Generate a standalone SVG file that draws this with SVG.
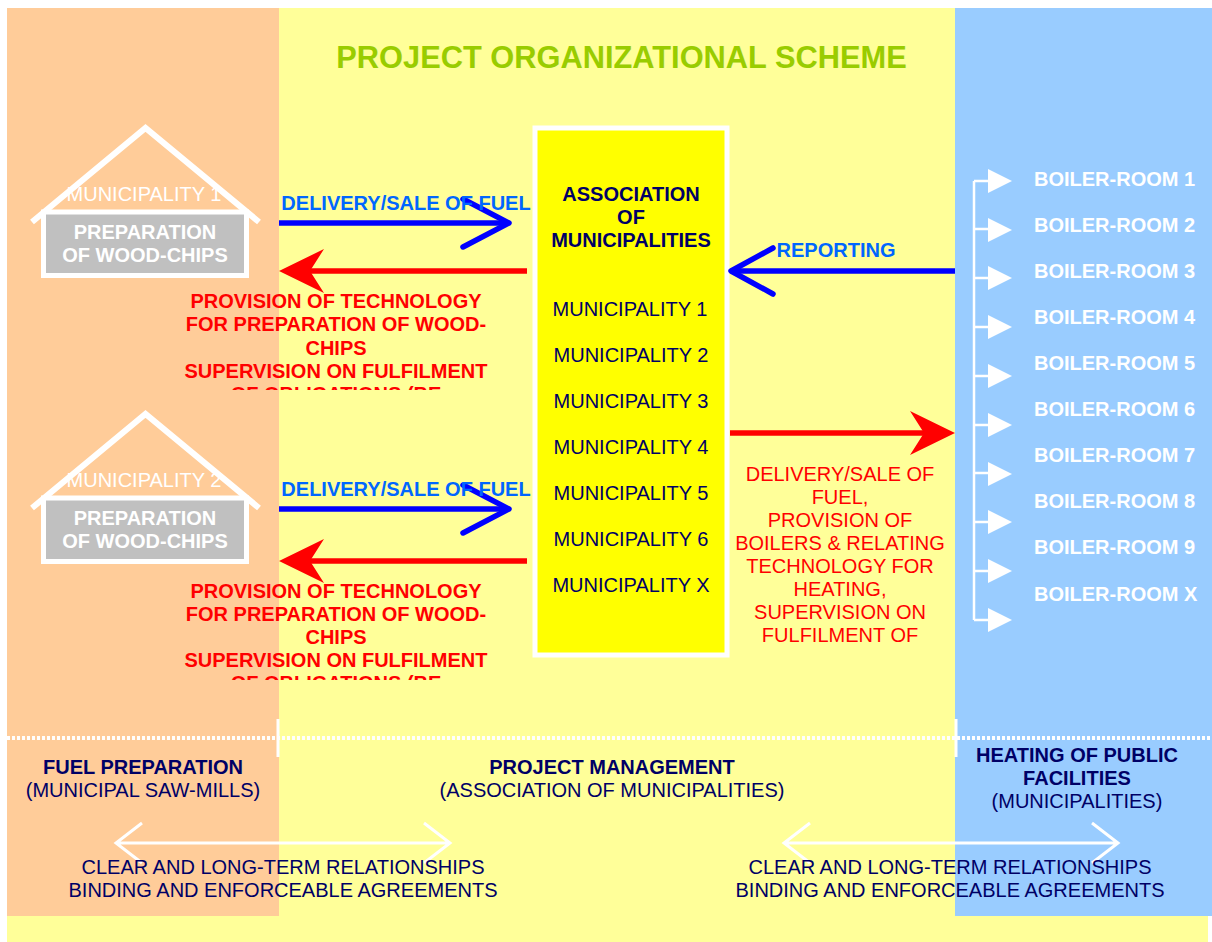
<svg xmlns="http://www.w3.org/2000/svg" width="1212" height="942" viewBox="0 0 1212 942">
<defs>
<style>
text{font-family:"Liberation Sans",Arial,sans-serif;font-size:20px;text-anchor:middle}
.b{font-weight:bold}
.navy{fill:#000066}
.w{fill:#fff}
.red{fill:#ff0000}
.lb{fill:#0066ff;font-weight:bold}
.blue{stroke:#0000ff;stroke-width:5.5;fill:none}
.head{stroke-linecap:round;stroke-linejoin:round}
.redl{stroke:#ff0000;stroke-width:5.5;fill:none}
.wl{stroke:#fff;fill:none}
.s{text-anchor:start}
</style>
<clipPath id="c1"><rect x="150" y="280" width="370" height="110"/></clipPath>
<clipPath id="c2"><rect x="150" y="570" width="370" height="110"/></clipPath>
<polygon id="rh" points="0,0 -45,-22 -31,0 -45,22" fill="#ff0000"/>
<g id="house">
<path class="wl" stroke-width="6" d="M32 222L145.500 128L259 222"/>
<rect x="43.500" y="212" width="203" height="63.500" fill="#c0c0c0" stroke="#fff" stroke-width="5"/>
</g>
</defs>
<rect x="7" y="8" width="1201" height="934" fill="#ffff99"/>
<rect x="7" y="8" width="272" height="908" fill="#ffcc99"/>
<rect x="955" y="8" width="257" height="908" fill="#99ccff"/>
<text id="title" x="621.500" y="68" class="b" style="font-size:30.800px" fill="#99cc00">PROJECT ORGANIZATIONAL SCHEME</text>

<g id="municipality-1">
<use href="#house"/>
<text x="144" y="201" class="w">MUNICIPALITY 1</text>
<text x="145" y="239" class="w b">PREPARATION</text>
<text x="145" y="262" class="w b">OF WOOD-CHIPS</text>
</g>
<g id="municipality-2">
<use href="#house" y="286"/>
<text x="144" y="487" class="w">MUNICIPALITY 2</text>
<text x="145" y="525" class="w b">PREPARATION</text>
<text x="145" y="548" class="w b">OF WOOD-CHIPS</text>
</g>

<g id="association">
<rect x="535" y="128" width="192" height="527" fill="#ffff00" stroke="#fff" stroke-width="5"/>
<text x="631" y="201" class="navy b">ASSOCIATION</text>
<text x="631" y="224" class="navy b">OF</text>
<text x="631" y="247" class="navy b">MUNICIPALITIES</text>
<text x="630" y="316" class="navy">MUNICIPALITY 1</text>
<text x="631" y="362" class="navy">MUNICIPALITY 2</text>
<text x="631" y="408" class="navy">MUNICIPALITY 3</text>
<text x="631" y="454" class="navy">MUNICIPALITY 4</text>
<text x="631" y="500" class="navy">MUNICIPALITY 5</text>
<text x="631" y="546" class="navy">MUNICIPALITY 6</text>
<text x="631" y="592" class="navy">MUNICIPALITY X</text>
</g>

<g id="boiler-rooms">
<text x="1034" y="186" class="w b s">BOILER-ROOM 1</text>
<text x="1034" y="232" class="w b s">BOILER-ROOM 2</text>
<text x="1034" y="278" class="w b s">BOILER-ROOM 3</text>
<text x="1034" y="324" class="w b s">BOILER-ROOM 4</text>
<text x="1034" y="370" class="w b s">BOILER-ROOM 5</text>
<text x="1034" y="416" class="w b s">BOILER-ROOM 6</text>
<text x="1034" y="462" class="w b s">BOILER-ROOM 7</text>
<text x="1034" y="508" class="w b s">BOILER-ROOM 8</text>
<text x="1034" y="554" class="w b s">BOILER-ROOM 9</text>
<text x="1034" y="601" class="w b s">BOILER-ROOM X</text>
</g>

<g id="connectors">
<path class="blue" d="M279 223H508"/>
<path class="blue head" d="M463 199L509 223L463 247"/>
<path class="redl" d="M527 271H300"/>
<use href="#rh" transform="translate(279 271) rotate(180)"/>
<path class="blue" d="M279 509H508"/>
<path class="blue head" d="M463 485L509 509L463 533"/>
<path class="redl" d="M527 561H300"/>
<use href="#rh" transform="translate(279 561) rotate(180)"/>
<path class="blue" d="M955 271H732"/>
<path class="blue head" d="M773 248L731 271L773 294"/>
<path class="redl" d="M730 433H925"/>
<use href="#rh" transform="translate(955 433)"/>
<path class="wl" stroke-width="2.500" d="M974 181V620"/>
<path class="wl" stroke-width="2.500" d="M974 181H990M974 229H990M974 278H990M974 327H990M974 376H990M974 425H990M974 473H990M974 522H990M974 571H990M974 620H990"/>
<g fill="#fff">
<path d="M988 169L1012 181L988 193Z"/>
<path d="M988 218L1012 230L988 242Z"/>
<path d="M988 266L1012 278L988 290Z"/>
<path d="M988 315L1012 327L988 339Z"/>
<path d="M988 364L1012 376L988 388Z"/>
<path d="M988 413L1012 425L988 437Z"/>
<path d="M988 462L1012 474L988 486Z"/>
<path d="M988 510L1012 522L988 534Z"/>
<path d="M988 559L1012 571L988 583Z"/>
<path d="M988 608L1012 620L988 632Z"/>
</g>
<path class="wl" stroke-width="3" d="M116 843H450M142 823L116 843L142 863M424 823L450 843L424 863"/>
<path class="wl" stroke-width="3" d="M784 843H1118M810 823L784 843L810 863M1092 823L1118 843L1092 863"/>
<path class="wl" stroke-width="4" stroke-dasharray="3 2" d="M7 738H1212"/>
<path class="wl" stroke-width="3" d="M278 719V757M956 719V757"/>
</g>

<g id="labels">
<text x="406" y="210" class="lb">DELIVERY/SALE OF FUEL</text>
<text x="406" y="496" class="lb">DELIVERY/SALE OF FUEL</text>
<text x="836" y="257" class="lb">REPORTING</text>
<g clip-path="url(#c1)" class="b">
<text x="336" y="308" class="red">PROVISION OF TECHNOLOGY</text>
<text x="336" y="331" class="red">FOR PREPARATION OF WOOD-</text>
<text x="336" y="355" class="red">CHIPS</text>
<text x="336" y="378" class="red">SUPERVISION ON FULFILMENT</text>
<text x="336" y="401" class="red">OF OBLIGATIONS (BE</text>
</g>
<g clip-path="url(#c2)" class="b">
<text x="336" y="598" class="red">PROVISION OF TECHNOLOGY</text>
<text x="336" y="621" class="red">FOR PREPARATION OF WOOD-</text>
<text x="336" y="644" class="red">CHIPS</text>
<text x="336" y="667" class="red">SUPERVISION ON FULFILMENT</text>
<text x="336" y="690" class="red">OF OBLIGATIONS (BE</text>
</g>
<text x="840" y="481" class="red">DELIVERY/SALE OF</text>
<text x="840" y="504" class="red">FUEL,</text>
<text x="840" y="527" class="red">PROVISION OF</text>
<text x="840" y="550" class="red">BOILERS &amp; RELATING</text>
<text x="840" y="573" class="red">TECHNOLOGY FOR</text>
<text x="840" y="596" class="red">HEATING,</text>
<text x="840" y="619" class="red">SUPERVISION ON</text>
<text x="840" y="642" class="red">FULFILMENT OF</text>
<text x="143" y="774" class="navy b">FUEL PREPARATION</text>
<text x="143" y="797" class="navy">(MUNICIPAL SAW-MILLS)</text>
<text x="612" y="774" class="navy b">PROJECT MANAGEMENT</text>
<text x="612" y="797" class="navy">(ASSOCIATION OF MUNICIPALITIES)</text>
<text x="1077" y="762" class="navy b">HEATING OF PUBLIC</text>
<text x="1077" y="785" class="navy b">FACILITIES</text>
<text x="1077" y="808" class="navy">(MUNICIPALITIES)</text>
<text x="283" y="874" class="navy">CLEAR AND LONG-TERM RELATIONSHIPS</text>
<text x="283" y="897" class="navy">BINDING AND ENFORCEABLE AGREEMENTS</text>
<text x="950" y="874" class="navy">CLEAR AND LONG-TERM RELATIONSHIPS</text>
<text x="950" y="897" class="navy">BINDING AND ENFORCEABLE AGREEMENTS</text>
</g>
</svg>
